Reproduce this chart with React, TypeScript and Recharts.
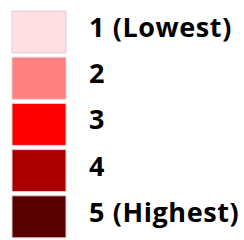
import React from "react";
import { BarChart, Bar, XAxis, YAxis, Cell, LabelList } from "recharts";

// legend classes, top to bottom
const levels = ["1 (Lowest)", "2", "3", "4", "5 (Highest)"];
const swatch = [1, 1, 1, 1, 1];
const COLORS = ["#ffdfe3", "#ff8080", "#ff0000", "#aa0000", "#580000"];

const data = levels.map((name, i) => ({ name, value: swatch[i] }));

const renderLabel = (props: any) => {
  const { x, y, width, height, value } = props;
  return (
    <text
      x={x + width + 23}
      y={y + height / 2 + 5}
      fill="#000"
      fontFamily="'Open Sans', sans-serif"
      fontWeight={700}
      fontSize={27}
      letterSpacing={0.6}
    >
      {value}
    </text>
  );
};

const App = () => {
  return (
    <div style={{ position: "absolute", left: 0, top: 0 }}>
      <BarChart
        width={244}
        height={240}
        data={data}
        layout="vertical"
        barSize={42}
        margin={{ top: 9, right: 178, bottom: 0, left: 12 }}
      >
        <XAxis type="number" domain={[0, 1]} hide />
        <YAxis type="category" dataKey="name" hide />
        <Bar
          dataKey="value"
          stroke="#d8d0d0"
          strokeWidth={1}
          isAnimationActive={false}
        >
          {data.map((entry, index) => (
            <Cell key={`cell-${index}`} fill={COLORS[index]} />
          ))}
          <LabelList dataKey="name" content={renderLabel} />
        </Bar>
      </BarChart>
    </div>
  );
};

export default App;
